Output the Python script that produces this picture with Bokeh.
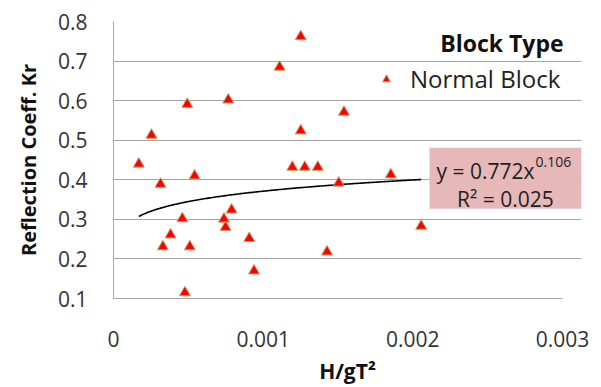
from bokeh.plotting import figure
from bokeh.models import (Range1d, FixedTicker, NumeralTickFormatter, Label,
                          Legend, LegendItem)
from bokeh.embed import file_html
from bokeh.resources import INLINE
import numpy as np

# ---- data ----
h_gt2 = [0.000169, 0.000254, 0.000314, 0.000330, 0.000381, 0.000460, 0.000477,
         0.000493, 0.000510, 0.000542, 0.000738, 0.000749, 0.000767, 0.000789,
         0.000907, 0.000939, 0.001110, 0.001195, 0.001251, 0.001251, 0.001278,
         0.001365, 0.001427, 0.001505, 0.001540, 0.001853, 0.002056]
kr = [0.440, 0.513, 0.389, 0.231, 0.261, 0.302, 0.115,
      0.591, 0.231, 0.410, 0.301, 0.280, 0.602, 0.324,
      0.252, 0.170, 0.685, 0.432, 0.762, 0.524, 0.432,
      0.432, 0.218, 0.392, 0.571, 0.413, 0.283]

series_name = "Normal Block"
legend_title = "Block Type"
fit_a = 0.772
fit_b = 0.106
fit_r2 = 0.025
x_ticks = [0, 0.001, 0.002, 0.003]
y_ticks = [0.1, 0.2, 0.3, 0.4, 0.5, 0.6, 0.7, 0.8]

FONT = "Open Sans"
GRID = "#A6A6A6"

X_END = 0.003 * 468 / 449

p = figure(width=601, height=387, output_backend="svg", toolbar_location=None,
           x_range=Range1d(0, X_END), y_range=Range1d(0.1, 0.8),
           min_border_left=113, min_border_right=20, min_border_top=21,
           min_border_bottom=86)
p.outline_line_color = None
p.background_fill_color = "white"
p.border_fill_color = "white"

# grid
p.xgrid.grid_line_color = None
p.ygrid.grid_line_color = GRID
p.ygrid.grid_line_width = 1
p.ygrid.bounds = (0, 0.003)
p.ygrid.ticker = FixedTicker(ticks=y_ticks)

# axes
xa = p.xaxis[0]
xa.ticker = FixedTicker(ticks=x_ticks)
xa.formatter = NumeralTickFormatter(format="0.[000]")
xa.bounds = (0, 0.003)
xa.axis_line_color = GRID
xa.major_tick_line_color = None
xa.minor_tick_line_color = None
xa.major_label_text_font = FONT
xa.major_label_text_font_size = "21px"
xa.major_label_text_color = "#333333"
xa.major_label_standoff = 26
xa.axis_label = "H/gT²"
xa.axis_label_text_font = FONT
xa.axis_label_text_font_style = "bold"
xa.axis_label_text_font_size = "21px"
xa.axis_label_text_color = "#111111"
xa.axis_label_standoff = 7

ya = p.yaxis[0]
ya.ticker = FixedTicker(ticks=y_ticks)
ya.axis_line_color = GRID
ya.major_tick_line_color = None
ya.minor_tick_line_color = None
ya.major_label_text_font = FONT
ya.major_label_text_font_size = "21px"
ya.major_label_text_color = "#333333"
ya.major_label_standoff = 20
ya.axis_label = "Reflection Coeff. Kr"
ya.axis_label_text_font = FONT
ya.axis_label_text_font_style = "bold"
ya.axis_label_text_font_size = "20px"
ya.axis_label_text_color = "#111111"
ya.axis_label_standoff = 13

# trendline (power fit shown in chart)
xs = np.linspace(min(h_gt2), max(h_gt2), 200)
p.line(xs, fit_a * xs ** fit_b, line_color="black", line_width=1.6)

# points
r = p.scatter(h_gt2, kr, marker="triangle", size=11, fill_color="#FF0000",
              line_color="#C8A060", line_width=1)

# equation box
p.quad(left=[0.0021113], right=[X_END], bottom=[0.3267], top=[0.481],
       fill_color="#E6B8B7", line_color=None)
p.add_layout(Label(x=0.002158, y=0.4218, text="y = 0.772x", text_font=FONT,
                   text_font_size="21px", text_color="#222222",
                   text_baseline="alphabetic"))
p.add_layout(Label(x=0.00282, y=0.4443, text="0.106", text_font=FONT,
                   text_font_size="14px", text_color="#222222",
                   text_baseline="alphabetic"))
p.add_layout(Label(x=0.002619, y=0.3518, text="R² = 0.025", text_font=FONT,
                   text_font_size="21px", text_color="#222222",
                   text_align="center", text_baseline="alphabetic"))

# legend
p.add_layout(Label(x=0.003007, y=0.7467, text=legend_title, text_font=FONT,
                   text_font_size="23px", text_font_style="bold",
                   text_color="#111111", text_align="right",
                   text_baseline="middle"))
leg = Legend(items=[LegendItem(label=series_name, renderers=[r])],
             location=(263, 203), background_fill_alpha=0,
             border_line_color=None, label_text_font=FONT,
             label_text_font_size="24px", label_text_color="#222222",
             label_standoff=14, glyph_width=20, padding=10)
p.add_layout(leg)

open("out.html", "w").write(file_html(p, INLINE))
